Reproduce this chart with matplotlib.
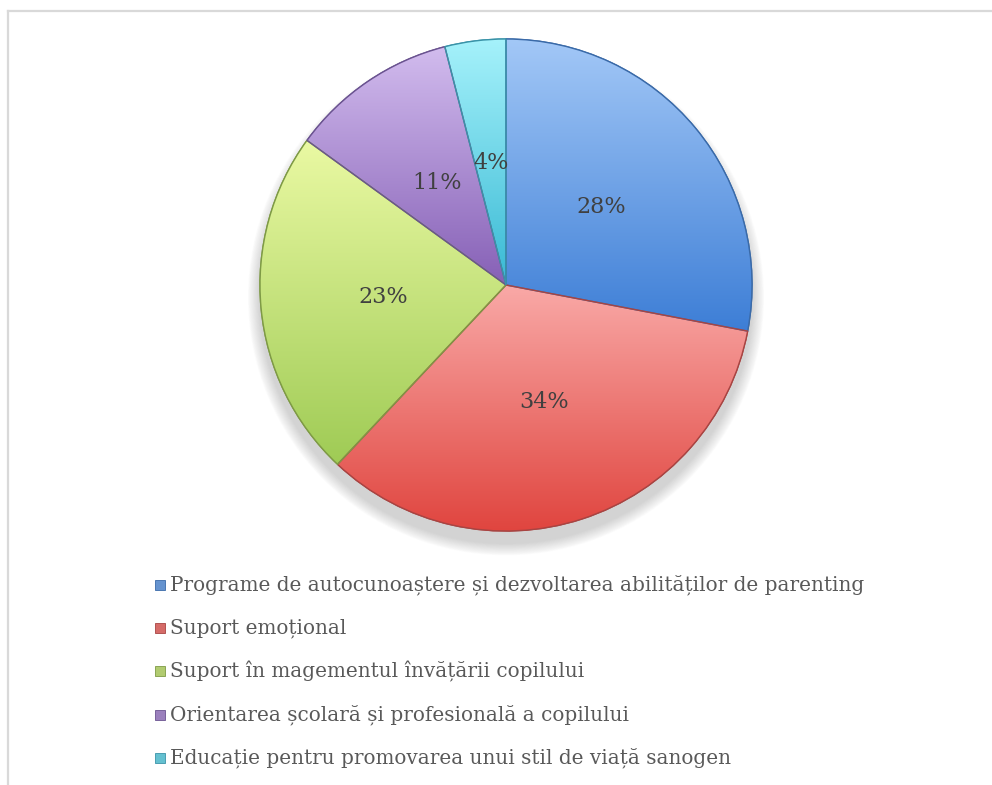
import numpy as np
import matplotlib
matplotlib.use("Agg")
import matplotlib.pyplot as plt
from matplotlib.patches import Rectangle, Circle, Wedge
from matplotlib.lines import Line2D
from matplotlib.colors import to_rgb

categories = [
    "Programe de autocunoaștere și dezvoltarea abilităților de parenting",
    "Suport emoțional",
    "Suport în magementul învățării copilului",
    "Orientarea școlară și profesională a copilului",
    "Educație pentru promovarea unui stil de viață sanogen",
]
values = [28, 34, 23, 11, 4]
top_colors = ["#A3C8F7", "#F9A9A7", "#EAF9A3", "#D2BCEE", "#A6F2FB"]
bottom_colors = ["#3D7ED6", "#E0453F", "#9FCB55", "#8660B6", "#38B9D4"]
edge_colors = ["#3A6AA8", "#A84442", "#7E9A45", "#6A5390", "#3A93A8"]

W, H = 992, 785
fig = plt.figure(figsize=(W / 100, H / 100), dpi=100)
fig.patch.set_facecolor("white")

# frame lines (top and left)
fig.add_artist(Line2D([7.5 / W, 1.0], [1 - 10.5 / H, 1 - 10.5 / H], color="#D9D9D9", lw=1.6))
fig.add_artist(Line2D([7.5 / W, 7.5 / W], [0, 1 - 10.5 / H], color="#D9D9D9", lw=1.6))

R = 246.0
cx, cy = 506.0, 285.0
half = R * 1.25
ax = fig.add_axes([(cx - half) / W, (H - cy - half) / H, 2 * half / W, 2 * half / H])

# soft shadow, mostly below the pie
for k in range(14):
    ax.add_patch(Circle((0, -0.05), 1.0 + 0.0035 * (14 - k), color="#8a8a8a", alpha=0.028, lw=0, zorder=0))

wedges, texts, autotexts = ax.pie(
    values, startangle=90, counterclock=False, radius=1.0,
    colors=top_colors, autopct="%1.0f%%", pctdistance=0.5,
    wedgeprops=dict(linewidth=1.0), textprops=dict(family="DejaVu Serif", fontsize=16, color="#404040"),
)

for w, tc, bc, ec in zip(wedges, top_colors, bottom_colors, edge_colors):
    w.set_edgecolor(ec)
    w.set_zorder(2)
    ext = w.get_path().get_extents()
    t = np.linspace(0, 1, 256)[:, None]
    c0 = np.array(to_rgb(tc)); c1 = np.array(to_rgb(bc))
    grad = (c0[None, :] * (1 - t) + c1[None, :] * t)[:, None, :]
    im = ax.imshow(grad, extent=[ext.x0, ext.x1, ext.y0, ext.y1], origin="upper",
                   aspect="auto", zorder=2.5, interpolation="bilinear")
    im.set_clip_path(w)
    ow = Wedge(w.center, w.r, w.theta1, w.theta2, facecolor="none",
               edgecolor=ec, lw=1.0, zorder=3)
    ax.add_patch(ow)

for t_ in autotexts:
    t_.set_zorder(5)

ax.set_xlim(-1.25, 1.25)
ax.set_ylim(-1.25, 1.25)
ax.set_aspect("equal")
ax.axis("off")

# legend (manual)
x_sq = 155
y0 = 585
pitch = 43.2
sq = 10
for i, (lab, tc, bc, ec) in enumerate(zip(categories, top_colors, bottom_colors, edge_colors)):
    yc = y0 + i * pitch
    mid = tuple((np.array(to_rgb(tc)) + np.array(to_rgb(bc))) / 2 * 0.9)
    fig.add_artist(Rectangle((x_sq / W, 1 - (yc + sq / 2) / H), sq / W, sq / H,
                             facecolor=mid, edgecolor=ec, lw=0.6, transform=fig.transFigure))
    fig.text(170 / W, 1 - yc / H, lab, family="DejaVu Serif", fontsize=14.45,
             color="#595959", va="center", ha="left")

fig.savefig("out.png", dpi=100, facecolor="white")
